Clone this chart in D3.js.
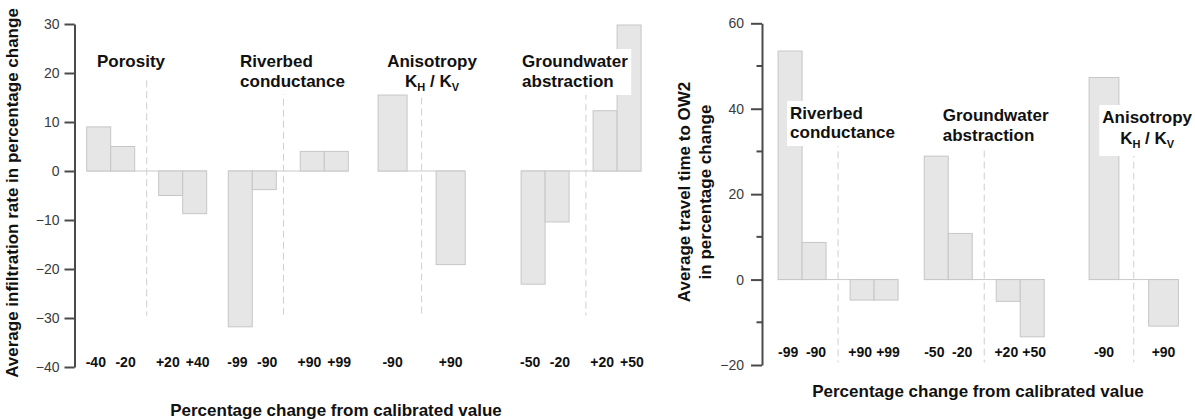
<!DOCTYPE html>
<html>
<head>
<meta charset="utf-8">
<script src="https://cdn.jsdelivr.net/npm/d3@7"></script>
<style>
  body { margin: 0; background: #ffffff; }
  svg { display: block; }
  text { font-family: "Liberation Sans", Arial, Helvetica, sans-serif; }
</style>
</head>
<body>
<svg id="chart" width="1195" height="420"></svg>
<script>
// ---- Average infiltration rate (% change) ----
const porosityLabels = ["-40", "-20", "+20", "+40"];
const porosityInfiltration = [9, 5, -5, -8.7];
const riverbedLabels = ["-99", "-90", "+90", "+99"];
const riverbedInfiltration = [-31.8, -3.8, 4, 4];
const anisotropyLabels = ["-90", "+90"];
const anisotropyInfiltration = [15.5, -19.1];
const abstractionLabels = ["-50", "-20", "+20", "+50"];
const abstractionInfiltration = [-23.1, -10.4, 12.3, 29.8];

// ---- Average travel time to OW2 (% change) ----
const riverbedTravel = [53.5, 8.7, -4.8, -4.8];
const abstractionTravel = [28.9, 10.8, -5.1, -13.4];
const anisotropyTravel = [47.3, -10.9];

// ---- axis ticks ----
const infiltrationTicks = [30, 20, 10, 0, -10, -20, -30, -40];
const travelTicks = [60, 40, 20, 0, -20];
const travelMinorTicks = [50, 30, 10, -10];

// ---- group titles (segments; sub = subscript) ----
const titlePorosity = [[{ t: "Porosity" }]];
const titleRiverbed = [[{ t: "Riverbed" }], [{ t: "conductance" }]];
const titleAbstraction = [[{ t: "Groundwater" }], [{ t: "abstraction" }]];
const titleAnisotropy = [[{ t: "Anisotropy" }],
  [{ t: "K" }, { t: "H", sub: true }, { t: " / K" }, { t: "V", sub: true }]];

const FONT_BOLD = 700;
const SUB_SHIFT = 4;
const svg = d3.select("#chart");

function drawPanel(cfg) {
  const x = d3.scaleLinear().domain(cfg.xDomain).range(cfg.xRange);
  const y = d3.scaleLinear().domain(cfg.yDomain).range(cfg.yRange);
  const root = svg.append("g");

  cfg.groups.forEach(grp => {
    const n = grp.values.length;
    const half = n / 2;
    const slotOf = i => (i < half ? i : i + 1);
    const g = root.append("g");
    const data = grp.values.map((v, i) => ({ v, label: grp.labels[i], s: slotOf(i), i }));

    // label position: pairs of bars get their labels spread slightly apart
    const labelSlot = d => {
      if (half < 2) return d.s + 0.5;
      const pairCentre = d.i < half ? half / 2 : half + 1 + half / 2;
      const sign = (d.i % half) < half / 2 ? -1 : 1;
      return pairCentre + sign * cfg.labelSpread;
    };

    // baseline across the group
    g.append("line")
      .attr("x1", x(grp.start)).attr("x2", x(grp.start + (n + 1) * grp.slot))
      .attr("y1", y(0)).attr("y2", y(0))
      .attr("stroke", "#c9c9c9").attr("stroke-width", 1);

    // dashed divider between decrease / increase
    const xd = x(grp.start + (half + 0.5) * grp.slot + (grp.dashShift || 0));
    g.append("line")
      .attr("x1", xd).attr("x2", xd)
      .attr("y1", y(grp.dashTop)).attr("y2", y(cfg.dashBottom))
      .attr("stroke", "#cfcfcf").attr("stroke-width", 1)
      .attr("stroke-dasharray", "7,4");

    // bars
    g.selectAll("rect.bar").data(data).join("rect")
      .attr("class", "bar")
      .attr("x", d => x(grp.start + d.s * grp.slot))
      .attr("width", d => x(grp.start + (d.s + 1) * grp.slot) - x(grp.start + d.s * grp.slot))
      .attr("y", d => y(Math.max(0, d.v)))
      .attr("height", d => Math.abs(y(d.v) - y(0)))
      .attr("fill", "#e6e6e6")
      .attr("stroke", "#c6c6c6")
      .attr("stroke-width", 1);

    // category labels under the bars
    g.selectAll("text.cat").data(data).join("text")
      .attr("class", "cat")
      .attr("x", d => x(grp.start + labelSlot(d) * grp.slot))
      .attr("y", cfg.labelY)
      .attr("text-anchor", "middle")
      .attr("font-size", 14)
      .attr("font-weight", FONT_BOLD)
      .attr("fill", "#111")
      .text(d => d.label);

    // title with white background
    const tg = root.append("g").attr("class", "title");
    const bg = tg.append("rect").attr("fill", "#ffffff");
    const tx = x(grp.start + grp.titleX * grp.slot);
    const txt = tg.append("text")
      .attr("font-size", 17)
      .attr("font-weight", FONT_BOLD)
      .attr("fill", "#111")
      .attr("text-anchor", grp.anchor);
    grp.title.forEach((line, li) => {
      const ly = grp.titleY + li * grp.lineGap;
      let shifted = false;
      line.forEach((seg, si) => {
        const ts = txt.append("tspan").text(seg.t)
          .attr("font-size", seg.sub ? 11 : 17);
        if (si === 0) ts.attr("x", tx).attr("y", ly);
        if (seg.sub && !shifted) { ts.attr("dy", SUB_SHIFT); shifted = true; }
        else if (!seg.sub && shifted) { ts.attr("dy", -SUB_SHIFT); shifted = false; }
      });
    });
    const bb = txt.node().getBBox();
    bg.attr("x", bb.x - 3).attr("y", bb.y - 3)
      .attr("width", bb.width + 6).attr("height", bb.height + 3 + grp.padBottom);
  });

  // y axis
  const axis = d3.axisLeft(y).tickValues(cfg.ticks).tickSize(cfg.tickLen)
    .tickPadding(cfg.tickPad).tickSizeOuter(0).tickFormat(d3.format("d"));
  const ag = root.append("g").attr("transform", `translate(${cfg.axisX},0)`).call(axis);
  ag.select(".domain").attr("stroke", "#4a4a4a").attr("stroke-width", 2);
  ag.selectAll(".tick line").attr("stroke", "#4a4a4a").attr("stroke-width", 2);
  ag.selectAll(".tick text").attr("font-size", 14).attr("fill", "#3a3a3a")
    .attr("font-family", "'Liberation Sans', Arial, sans-serif");

  if (cfg.minorTicks) {
    root.append("g").selectAll("line").data(cfg.minorTicks).join("line")
      .attr("x1", cfg.axisX - cfg.tickLen / 2).attr("x2", cfg.axisX)
      .attr("y1", d => y(d)).attr("y2", d => y(d))
      .attr("stroke", "#4a4a4a").attr("stroke-width", 2);
  }

  // axis titles
  const yt = root.append("text")
    .attr("transform", `translate(${cfg.yTitleX},${cfg.yTitleY}) rotate(-90)`)
    .attr("text-anchor", "middle")
    .attr("font-size", 17).attr("font-weight", FONT_BOLD).attr("fill", "#111");
  cfg.yTitle.forEach((line, i) => {
    yt.append("tspan").attr("x", 0).attr("y", i * cfg.yTitleGap).text(line);
  });

  root.append("text")
    .attr("x", cfg.xTitleX).attr("y", cfg.xTitleY)
    .attr("text-anchor", "middle")
    .attr("font-size", 17).attr("font-weight", FONT_BOLD).attr("fill", "#111")
    .text("Percentage change from calibrated value");
}

// Left panel: infiltration rate
drawPanel({
  xDomain: [0, 25], xRange: [74.7, 674.7],
  yDomain: [-40, 30], yRange: [367, 24],
  axisX: 74.5, tickLen: 10, tickPad: 5,
  ticks: infiltrationTicks,
  labelY: 367, labelSpread: 0.62, dashBottom: -29.5,
  yTitle: ["Average infiltration rate in percentage change"],
  yTitleX: 18, yTitleY: 193, yTitleGap: 0,
  xTitleX: 336, xTitleY: 416,
  groups: [
    { title: titlePorosity, labels: porosityLabels, values: porosityInfiltration,
      start: 0.5, slot: 1, dashTop: 18.5, titleX: 0.43, anchor: "start", titleY: 67, lineGap: 20, padBottom: 3 },
    { title: titleRiverbed, labels: riverbedLabels, values: riverbedInfiltration,
      start: 6.4, slot: 1, dashShift: -0.2, dashTop: 17, titleX: 0.49, anchor: "start", titleY: 67, lineGap: 20, padBottom: 3 },
    { title: titleAnisotropy, labels: anisotropyLabels, values: anisotropyInfiltration,
      start: 12.64, slot: 1.21, dashTop: 15, titleX: 1.86, anchor: "middle", titleY: 67, lineGap: 20, padBottom: 1 },
    { title: titleAbstraction, labels: abstractionLabels, values: abstractionInfiltration,
      start: 18.6, slot: 1, dashShift: 0.2, dashTop: 16, titleX: 0.04, anchor: "start", titleY: 67, lineGap: 20, padBottom: 4 }
  ]
});

// Right panel: travel time to OW2
drawPanel({
  xDomain: [0, 18], xRange: [762, 1194],
  yDomain: [-20, 60], yRange: [365, 23.3],
  axisX: 762, tickLen: 11, tickPad: 7,
  ticks: travelTicks, minorTicks: travelMinorTicks,
  labelY: 357, labelSpread: 0.58, dashBottom: -19.4,
  yTitle: ["Average travel time to OW2", "in percentage change"],
  yTitleX: 690, yTitleY: 192, yTitleGap: 21,
  xTitleX: 978, xTitleY: 397,
  groups: [
    { title: titleRiverbed, labels: riverbedLabels, values: riverbedTravel,
      start: 0.67, slot: 1, dashTop: 32.6, titleX: 0.5, anchor: "start", titleY: 119, lineGap: 19, padBottom: 4 },
    { title: titleAbstraction, labels: abstractionLabels, values: abstractionTravel,
      start: 6.76, slot: 1, dashTop: 30.2, titleX: 0.77, anchor: "start", titleY: 121, lineGap: 20, padBottom: 4 },
    { title: titleAnisotropy, labels: anisotropyLabels, values: anisotropyTravel,
      start: 13.63, slot: 1.24, dashTop: 30.2, titleX: 1.95, anchor: "middle", titleY: 123, lineGap: 21, padBottom: 6 }
  ]
});
</script>
</body>
</html>
